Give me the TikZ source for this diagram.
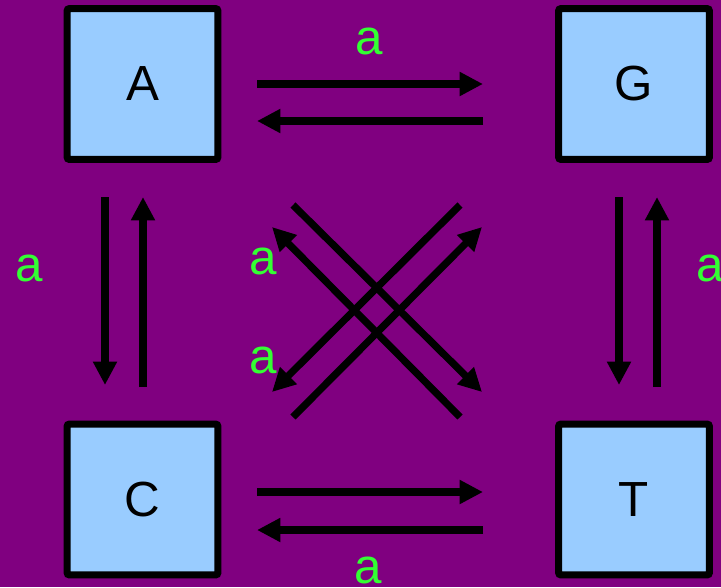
\documentclass[tikz,border=0pt]{standalone}
\usepackage{fontspec}
\setmainfont{Liberation Sans}
\usetikzlibrary{arrows.meta,calc}
\definecolor{bgpurple}{HTML}{800080}
\definecolor{boxblue}{HTML}{99CCFF}
\definecolor{lblgreen}{HTML}{33FF33}

\begin{document}
\begin{tikzpicture}[x=0.75pt,y=-0.75pt,
  basebox/.style={draw=black, line width=5.25pt, fill=boxblue,
    minimum width=113pt, minimum height=113pt, rounded corners=1.5pt,
    inner sep=0pt, font=\fontsize{37}{40}\selectfont},
  arr/.style={line width=5.4pt, -{Triangle[length=17.5pt,width=17pt]}},
  lbl/.style={text=lblgreen, inner sep=0pt, font=\fontsize{37}{40}\selectfont}]

% background
\fill[bgpurple] (0,0) rectangle (721,587);
\useasboundingbox (0,0) rectangle (721,587);

% the four states
\node[basebox] (A) at (142.5,84)  {A};
\node[basebox] (G) at (634,84)    {G};
\node[basebox] (C) at (142.5,499.5) {C};
\node[basebox] (T) at (634,499.5) {T};

% A <-> G
\draw[arr] ($(A.center)+(114.5,0)$) -- ($(G.center)+(-151,0)$);
\draw[arr] ($(G.center)+(-151,37)$) -- ($(A.center)+(114.5,37)$);

% C <-> T
\draw[arr] ($(C.center)+(114.5,-7.5)$) -- ($(T.center)+(-151,-7.5)$);
\draw[arr] ($(T.center)+(-151,30.5)$) -- ($(C.center)+(114.5,30.5)$);

% A <-> C
\draw[arr] ($(A.center)+(-37.5,113)$) -- ($(C.center)+(-37.5,-114.5)$);
\draw[arr] ($(C.center)+(0.5,-112.5)$) -- ($(A.center)+(0.5,113)$);

% G <-> T
\draw[arr] ($(G.center)+(-15,113)$) -- ($(T.center)+(-15,-114.5)$);
\draw[arr] ($(T.center)+(23,-112.5)$) -- ($(G.center)+(23,113)$);

% diagonal transitions
\draw[arr] ($(A.center)+(150.5,121)$) -- ($(T.center)+(-152,-107.5)$);
\draw[arr] ($(G.center)+(-174,121)$) -- ($(C.center)+(129.5,-107.5)$);
\draw[arr] ($(C.center)+(150.5,-82.5)$) -- ($(G.center)+(-152,143)$);
\draw[arr] ($(T.center)+(-174,-82.5)$) -- ($(A.center)+(129.5,143)$);

% rate labels
\node[lbl] (la1) at (369,41)    {a};
\node[lbl] (la2) at (29.5,268)  {a};
\node[lbl] (la3) at (710.5,268) {a};
\node[lbl] (la4) at (368,570)   {a};
\node[lbl] (la5) at (263,261)   {a};
\node[lbl] (la6) at (263,360)   {a};
\end{tikzpicture}
\end{document}
